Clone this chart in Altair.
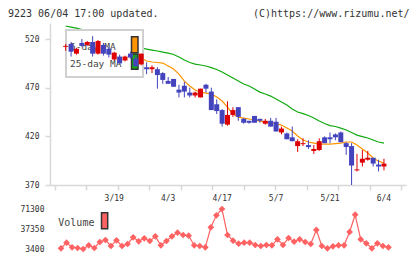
import altair as alt
import pandas as pd

# ---------------- data ----------------
idx = list(range(60))
opens = [512, 515, 505, 516, 514, 517, 505, 514, 510, 499,
         502, 498, 505, 500, 494, 491, 489, 489, 485, 477,
         479, 468, 472, 465, 462, 460, 473, 466, 453, 447,
         432, 442, 450, 438, 436, 441, 438, 433, 436, 435,
         424, 423, 419, 410, 412, 411, 405, 406, 419, 419,
         422, 424, 413, 410, 385, 393, 396, 398, 391, 389]
highs = [515, 517, 511, 520, 518, 523, 519, 516, 512, 507,
         504, 503, 507, 503, 505, 496, 493, 491, 486, 481,
         479, 473, 476, 470, 466, 469, 474, 470, 458, 448,
         456, 450, 450, 439, 436, 441, 438, 438, 439, 439,
         430, 424, 430, 417, 418, 416, 411, 418, 420, 424,
         423, 425, 414, 413, 402, 406, 405, 398, 396, 397]
lows = [508, 502, 504, 512, 513, 502, 504, 503, 501, 498,
        495, 497, 500, 492, 493, 484, 485, 469, 474, 474,
        471, 460, 460, 460, 460, 460, 465, 447, 443, 430,
        431, 440, 436, 433, 433, 434, 434, 432, 430, 425,
        422, 417, 415, 404, 410, 407, 402, 405, 413, 413,
        416, 414, 401, 370, 384, 389, 395, 389, 384, 385]
closes = [513, 507, 510, 513, 517, 505, 518, 505, 504, 506,
          495, 502, 501, 492, 505, 489, 491, 483, 478, 474,
          471, 465, 466, 462, 465, 469, 469, 447, 446, 433,
          442, 447, 440, 434, 434, 434, 436, 436, 430, 425,
          428, 417, 415, 415, 413, 409, 407, 415, 413, 417,
          419, 414, 409, 390, 386, 397, 398, 392, 389, 392]
ma5 = [517.9, 515.9, 513.8, 512.8, 511.8, 510.8, 510.8, 510.8, 509.7, 508.7,
       507.7, 505.6, 503.6, 502.5, 500.5, 497.4, 496.4, 495.9, 495.3, 492.3,
       489.2, 484.0, 476.8, 471.7, 467.6, 465.5, 464.5, 463.5, 460.4, 456.3,
       450.1, 442.9, 439.8, 438.8, 437.8, 436.8, 435.7, 434.7, 433.7, 433.2,
       431.6, 428.5, 425.4, 420.3, 416.2, 414.2, 413.1, 412.1, 412.1, 412.1,
       412.6, 413.1, 414.2, 414.2, 411.1, 407.0, 402.9, 397.7, 394.5, 392.6]
ma25 = [533.4, 532.3, 531.3, 529.8, 528.2, 527.2, 525.1, 524.1, 522.1, 521.0,
        519.0, 516.9, 514.9, 512.8, 510.8, 509.7, 508.7, 507.7, 506.6, 505.6,
        504.1, 501.5, 498.4, 495.9, 494.3, 493.3, 492.3, 490.7, 488.7, 486.1,
        483.0, 479.9, 476.8, 473.8, 471.7, 468.6, 465.5, 463.5, 461.4, 458.3,
        455.3, 452.2, 448.1, 445.0, 443.4, 441.4, 438.8, 435.7, 433.2, 431.1,
        430.1, 428.5, 426.5, 423.9, 421.3, 419.8, 418.3, 416.2, 414.2, 413.1]
volume = [4600, 14100, 6300, 5100, 3400, 9700, 5100, 15300, 18700, 8500,
          18100, 8500, 11900, 23300, 16500, 21600, 17000, 24900, 9700, 17000,
          24900, 31100, 27200, 26000, 9700, 8500, 6300, 40200, 60600, 71300,
          27200, 17500, 12400, 14100, 14100, 10200, 8500, 10200, 9700, 19900,
          10200, 22100, 15800, 19900, 15300, 11900, 35700, 8500, 4600, 7900,
          9700, 9700, 32300, 61600, 19900, 13100, 4600, 13100, 8500, 6300]
date_labels = ["3/19", "4/3", "4/17", "5/7", "5/21", "6/4"]
date_label_pos = [9, 19, 29, 39, 49, 59]
price_ticks = [370, 420, 470, 520]
volume_ticks = [3400, 37350, 71300]
header_left = "9223 06/04 17:00 updated."
header_right = "(C)https://www.rizumu.net/"
legend_names = ["5-day MA", "25-day MA"]

# ---------------- styling ----------------
RED = "#dd0000"
BLUE = "#4343bd"
ORANGE = "#ff9400"
GREEN = "#11aa11"
VOLC = "#ff6262"
AXC = "#d8d8d8"
TXT = "#333333"
MONO = "DejaVu Sans Mono"

X_DOM = [-1.98, 62.16]
x_ticks = [round(X_DOM[0] + k * (X_DOM[1] - X_DOM[0]) / 11, 3) for k in range(12)]

xscale = alt.Scale(domain=X_DOM, nice=False, zero=False)
xaxis = alt.Axis(values=x_ticks, labels=False, title=None, grid=False,
                 domainColor=AXC, domainWidth=1.5, tickColor=AXC, tickWidth=1.5,
                 tickSize=5)
xaxis_v = alt.Axis(title=None, grid=False, labels=False, ticks=False, domain=False)
yscale = alt.Scale(domain=[370, 536.5], nice=False, zero=False)
yaxis = alt.Axis(values=price_ticks, title=None, grid=False, domainColor=AXC,
                 domainWidth=1.5, tickColor=AXC, tickWidth=1.5, tickSize=5,
                 labelFont=MONO, labelFontSize=8, labelColor=TXT, labelPadding=6,
                 format="d")

df = pd.DataFrame({"i": idx, "open": opens, "high": highs, "low": lows,
                   "close": closes, "ma5": ma5, "ma25": ma25, "vol": volume})
df["dir"] = ["up" if c >= o else "down" for o, c in zip(opens, closes)]

base = alt.Chart(df)
X = alt.X("i:Q", scale=xscale, axis=xaxis)


def Y(field):
    return alt.Y(field, type="quantitative", scale=yscale, axis=yaxis)


ma5_line = base.mark_line(color=ORANGE, strokeWidth=1.2).encode(x=X, y=Y("ma5"))
ma25_line = base.mark_line(color=GREEN, strokeWidth=1.2).encode(x=X, y=Y("ma25"))

one = pd.DataFrame({"k": [0]})
legend_box = alt.Chart(one).mark_rect(fill="white", stroke="#d0d0d0", strokeWidth=2).encode(
    x=alt.value(16), x2=alt.value(93), y=alt.value(7), y2=alt.value(54))
leg1 = alt.Chart(pd.DataFrame({"name": [legend_names[0]]})).mark_text(
    font=MONO, fontSize=9.5, color="#444444", align="left", baseline="alphabetic").encode(
    x=alt.value(20), y=alt.value(27), text="name:N")
leg2 = alt.Chart(pd.DataFrame({"name": [legend_names[1]]})).mark_text(
    font=MONO, fontSize=9.5, color="#444444", align="left", baseline="alphabetic").encode(
    x=alt.value(20), y=alt.value(44), text="name:N")
sw_orange = alt.Chart(one).mark_rect(fill=ORANGE, stroke="#333333", strokeWidth=1.5).encode(
    x=alt.value(81.5), x2=alt.value(88), y=alt.value(13.7), y2=alt.value(29.7))
sw_green = alt.Chart(one).mark_rect(fill=GREEN, stroke="#333333", strokeWidth=1.5).encode(
    x=alt.value(81.5), x2=alt.value(88), y=alt.value(31), y2=alt.value(46.3))

cscale = alt.Scale(domain=["up", "down"], range=[RED, BLUE])
wicks = base.mark_rule(strokeWidth=1).encode(
    x=X, y=Y("low"), y2="high:Q",
    color=alt.Color("dir:N", scale=cscale, legend=None))
bodies = base.mark_bar(size=5).encode(
    x=X, y=Y("open"), y2="close:Q",
    color=alt.Color("dir:N", scale=cscale, legend=None))

dl_df = pd.DataFrame({"i": date_label_pos, "label": date_labels})
date_text = alt.Chart(dl_df).mark_text(font=MONO, fontSize=8, color=TXT,
                                       align="center", baseline="alphabetic").encode(
    x=X, y=alt.value(177.5), text="label:N")

hdr_l = alt.Chart(pd.DataFrame({"t": [header_left]})).mark_text(
    font=MONO, fontSize=10, color=TXT, align="left", baseline="alphabetic").encode(
    x=alt.value(-42), y=alt.value(-6), text="t:N")
hdr_r = alt.Chart(pd.DataFrame({"t": [header_right]})).mark_text(
    font=MONO, fontSize=10, color=TXT, align="right", baseline="alphabetic").encode(
    x=alt.value(359.5), y=alt.value(-6), text="t:N")

main = alt.layer(ma5_line, ma25_line, legend_box, leg1, leg2, sw_orange, sw_green,
                 wicks, bodies, date_text, hdr_l, hdr_r).properties(width=356, height=162)

# ---------------- volume panel ----------------
vscale = alt.Scale(domain=[3400, 71300], nice=False, zero=False)
vaxis = alt.Axis(values=volume_ticks, title=None, grid=False, domain=False,
                 ticks=False, labelFont=MONO, labelFontSize=8, labelColor=TXT,
                 labelPadding=6, format="d")
XV = alt.X("i:Q", scale=xscale, axis=xaxis_v)
VY = alt.Y("vol:Q", scale=vscale, axis=vaxis)
vol_line = base.mark_line(color=VOLC, strokeWidth=1.2).encode(x=XV, y=VY)
vol_pts = base.mark_point(shape="diamond", filled=True, size=45, opacity=1,
                          color=VOLC).encode(x=XV, y=VY)
vol_text = alt.Chart(pd.DataFrame({"t": ["Volume"]})).mark_text(
    font=MONO, fontSize=10, color="#444444", align="left", baseline="alphabetic").encode(
    x=alt.value(8.3), y=alt.value(17), text="t:N")
vol_sw = alt.Chart(one).mark_rect(fill=VOLC, stroke="#333333", strokeWidth=1.5).encode(
    x=alt.value(51.5), x2=alt.value(57.7), y=alt.value(3.7), y2=alt.value(19.7))

vol = alt.layer(vol_line, vol_pts, vol_text, vol_sw).properties(width=356, height=40)

chart = alt.vconcat(main, vol, spacing=24, bounds="flush").properties(
    padding={"left": 8, "top": 9, "right": 0, "bottom": 0},
    background="white",
).configure_view(stroke=None)

chart.save("out.html", embed_options={"renderer": "svg", "actions": False})
